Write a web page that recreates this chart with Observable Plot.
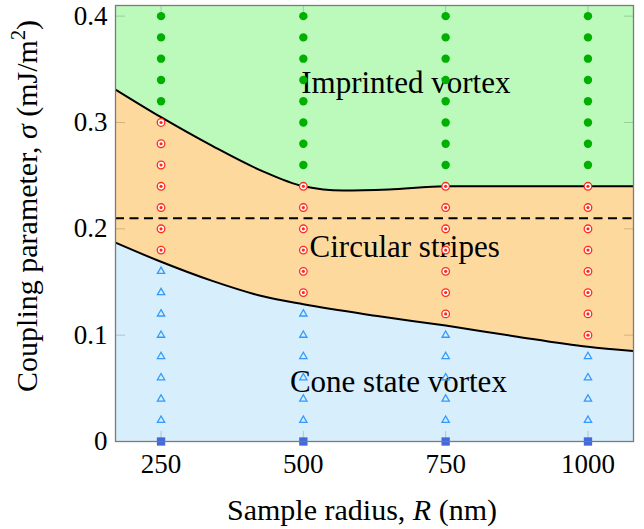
<!DOCTYPE html>
<html>
<head>
<meta charset="utf-8">
<script src="https://cdn.jsdelivr.net/npm/d3@7"></script>
<script src="https://cdn.jsdelivr.net/npm/@observablehq/plot@0.6"></script>
<style>
  html, body { margin: 0; padding: 0; background: #fff; }
</style>
</head>
<body>
<div id="chart"></div>
<script>
// ---- data ----
const sampleRadii = [250, 500, 750, 1000];
const sigmaGrid = [0, 0.02, 0.04, 0.06, 0.08, 0.10, 0.12, 0.14, 0.16, 0.18, 0.20,
                   0.22, 0.24, 0.26, 0.28, 0.30, 0.32, 0.34, 0.36, 0.38, 0.40];
// highest sigma simulated in the cone state / circular stripes state, per radius
const lastConeSigma = [0.16, 0.12, 0.10, 0.08];
const lastStripeSigma = [0.30, 0.24, 0.24, 0.24];

// phase boundaries
const upperR = [170, 250, 340, 425, 500, 570, 650, 750, 1000, 1080];
const upperSigma = [0.331, 0.305, 0.278, 0.255, 0.240, 0.236, 0.237, 0.240, 0.240, 0.240];
const lowerR = [170, 250, 340, 425, 500, 630, 750, 870, 1000, 1080];
const lowerSigma = [0.187, 0.169, 0.151, 0.137, 0.129, 0.118, 0.109, 0.099, 0.089, 0.085];
const dashedSigma = [0.21];

const regionLabels = ["Imprinted vortex", "Circular stripes", "Cone state vortex"];
const regionLabelR = [680, 678, 667];
const regionLabelSigma = [0.3367, 0.1829, 0.0558];

const xTicks = [250, 500, 750, 1000];
const xTickLabels = ["250", "500", "750", "1000"];
const yTicks = [0, 0.1, 0.2, 0.3, 0.4];
const yTickLabels = ["0", "0.1", "0.2", "0.3", "0.4"];

// ---- tables ----
const eps = 1e-9;
const points = [];
sampleRadii.forEach((R, i) => {
  sigmaGrid.forEach(s => {
    let state;
    if (s < eps) state = "uniform";
    else if (s <= lastConeSigma[i] + eps) state = "cone";
    else if (s <= lastStripeSigma[i] + eps) state = "stripes";
    else state = "imprinted";
    points.push({R, s, state});
  });
});
const upper = upperR.map((R, i) => ({R, s: upperSigma[i]}));
const lower = lowerR.map((R, i) => ({R, s: lowerSigma[i]}));
const labels = regionLabels.map((t, i) => ({t, R: regionLabelR[i], s: regionLabelSigma[i]}));

const C = {
  green: "#bcfabc", orange: "#fed99e", blue: "#d7eefc",
  dot: "#00b000", target: "#ff2a1a", tri: "#3399ff", sq: "#4169e1"
};
const FONT = "'Liberation Serif', 'Times New Roman', Tinos, 'DejaVu Serif', serif";

const plot = Plot.plot({
  width: 644,
  height: 529,
  marginLeft: 115,
  marginRight: 11,
  marginTop: 5,
  marginBottom: 88,
  style: {fontFamily: FONT, fontSize: "27px", color: "#000", background: "#fff"},
  x: {domain: [170, 1080]},
  y: {domain: [0, 0.41]},
  marks: [
    Plot.frame({fill: C.green, stroke: null}),
    Plot.areaY(upper, {x: "R", y: "s", fill: C.orange, curve: "monotone-x", clip: "frame"}),
    Plot.areaY(lower, {x: "R", y: "s", fill: C.blue, curve: "monotone-x", clip: "frame"}),
    // inward ticks on all sides
    Plot.axisX({ticks: xTicks, anchor: "bottom", tickSize: -10, text: null, label: null, stroke: "#000", strokeOpacity: 0.18}),
    Plot.axisX({ticks: xTicks, anchor: "top", tickSize: -10, text: null, label: null, stroke: "#000", strokeOpacity: 0.18}),
    Plot.axisY({ticks: yTicks, anchor: "left", tickSize: -10, text: null, label: null, stroke: "#000", strokeOpacity: 0.18}),
    Plot.axisY({ticks: yTicks, anchor: "right", tickSize: -10, text: null, label: null, stroke: "#000", strokeOpacity: 0.18}),
    // tick labels
    Plot.axisX({ticks: xTicks, anchor: "bottom", tickSize: 0, tickPadding: 12, label: null, fontSize: 27, fontFamily: FONT,
                tickFormat: d => xTickLabels[xTicks.indexOf(d)]}),
    Plot.axisY({ticks: yTicks, anchor: "left", tickSize: 0, tickPadding: 8, label: null, fontSize: 27, fontFamily: FONT,
                tickFormat: d => yTickLabels[yTicks.indexOf(d)]}),
    Plot.ruleY(dashedSigma, {stroke: "#000", strokeWidth: 2, strokeDasharray: "9,5.5"}),
    Plot.line(upper, {x: "R", y: "s", stroke: "#000", strokeWidth: 2, curve: "monotone-x", clip: "frame"}),
    Plot.line(lower, {x: "R", y: "s", stroke: "#000", strokeWidth: 2, curve: "monotone-x", clip: "frame"}),
    Plot.text(labels, {x: "R", y: "s", text: "t", fontSize: 31, fontFamily: FONT, fill: "#000", lineAnchor: "middle"}),
    // simulation points
    Plot.dot(points.filter(d => d.state === "imprinted"), {x: "R", y: "s", r: 4.2, fill: C.dot, stroke: null}),
    Plot.dot(points.filter(d => d.state === "stripes"), {x: "R", y: "s", r: 3.8, fill: "#fff", stroke: C.target, strokeWidth: 1.3}),
    Plot.dot(points.filter(d => d.state === "stripes"), {x: "R", y: "s", r: 1.6, fill: C.target, stroke: null}),
    Plot.dot(points.filter(d => d.state === "cone"), {x: "R", y: "s", symbol: "triangle", r: 2.7, fill: "none", stroke: C.tri, strokeWidth: 1.3}),
    Plot.dot(points.filter(d => d.state === "uniform"), {x: "R", y: "s", symbol: "square", r: 4.7, fill: C.sq, stroke: null, clip: false}),
    Plot.frame({stroke: "#7a7a7a", strokeWidth: 1.3})
  ]
});

document.getElementById("chart").appendChild(plot);

// axis titles with italic symbol and superscript
const svg = d3.select(plot);
const xl = svg.append("text")
  .attr("x", 362).attr("y", 520)
  .attr("text-anchor", "middle")
  .style("font-family", FONT).attr("font-size", 30).attr("fill", "#000");
xl.append("tspan").text("Sample radius, ");
xl.append("tspan").attr("font-style", "italic").text("R");
xl.append("tspan").text(" (nm)");

const yl = svg.append("text")
  .attr("transform", "translate(37,206) rotate(-90)")
  .attr("text-anchor", "middle")
  .style("font-family", FONT).attr("font-size", 30).attr("fill", "#000");
yl.append("tspan").text("Coupling parameter, ");
yl.append("tspan").attr("font-style", "italic").text("σ");
yl.append("tspan").text(" (mJ/m");
yl.append("tspan").attr("font-size", 20).attr("dy", -12).text("2");
yl.append("tspan").attr("dy", 12).text(")");
</script>
</body>
</html>
